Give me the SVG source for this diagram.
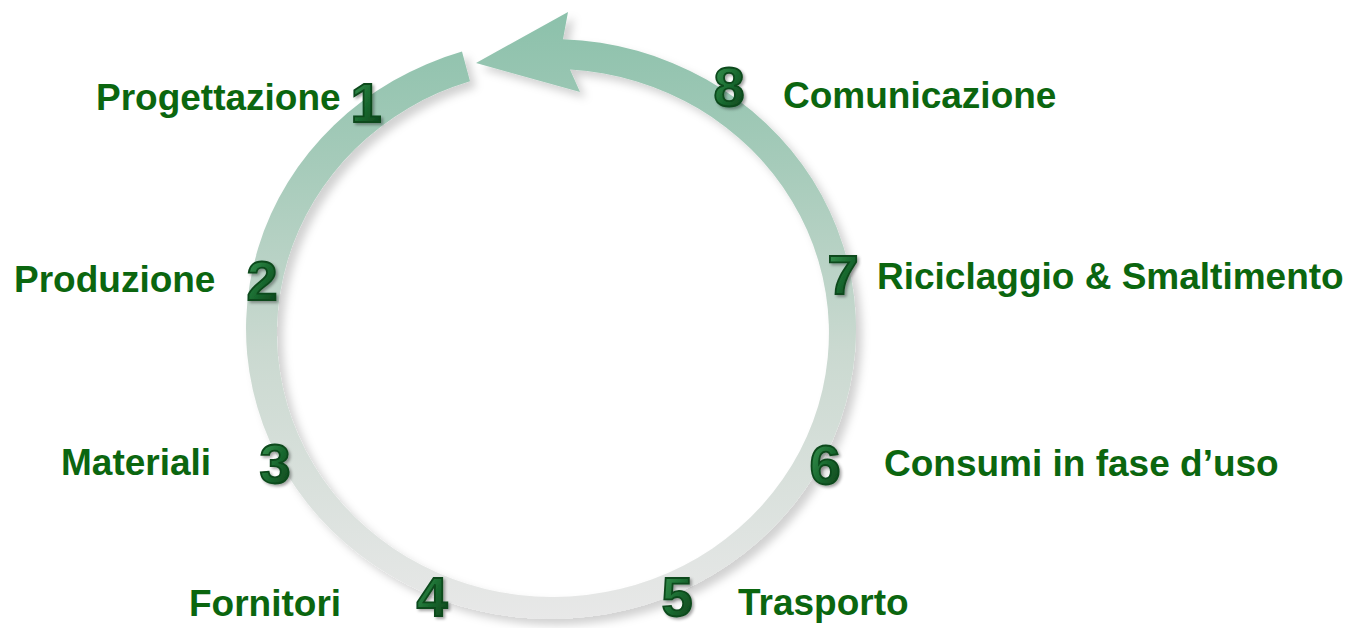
<svg xmlns="http://www.w3.org/2000/svg" width="1349" height="628" viewBox="0 0 1349 628">
  <defs>
    <linearGradient id="ringGrad" gradientUnits="userSpaceOnUse" x1="0" y1="15" x2="0" y2="620">
      <stop offset="0" stop-color="#8cc1ab"/>
      <stop offset="0.25" stop-color="#a6cbba"/>
      <stop offset="0.55" stop-color="#cad9d0"/>
      <stop offset="1" stop-color="#e8e8e8"/>
    </linearGradient>
    <linearGradient id="numGrad" x1="0" y1="0" x2="1" y2="1">
      <stop offset="0" stop-color="#3f9c58"/>
      <stop offset="0.5" stop-color="#1a6b30"/>
      <stop offset="1" stop-color="#0a3d18"/>
    </linearGradient>
    <filter id="ringShadow" x="-10%" y="-10%" width="120%" height="120%">
      <feGaussianBlur in="SourceAlpha" stdDeviation="4"/>
      <feOffset dx="6" dy="6" result="b"/>
      <feFlood flood-color="#000" flood-opacity="0.18"/>
      <feComposite in2="b" operator="in"/>
      <feMerge><feMergeNode/><feMergeNode in="SourceGraphic"/></feMerge>
    </filter>
    <filter id="numShadow" x="-30%" y="-30%" width="160%" height="160%">
      <feGaussianBlur in="SourceAlpha" stdDeviation="1.5"/>
      <feOffset dx="2" dy="2" result="b"/>
      <feFlood flood-color="#000" flood-opacity="0.35"/>
      <feComposite in2="b" operator="in"/>
      <feMerge><feMergeNode/><feMergeNode in="SourceGraphic"/></feMerge>
    </filter>
    <style>
      .num { font-family: "Liberation Sans", Arial, sans-serif; font-weight: bold; font-size: 56px; fill: url(#numGrad); stroke: #0b4a1c; stroke-width: 1.8; text-anchor: middle; filter: url(#numShadow); }
      .lbl { font-family: "Liberation Sans", Arial, sans-serif; font-weight: bold; font-size: 37px; fill: #0b660f; }
    </style>
  </defs>
  <rect width="1349" height="628" fill="#ffffff"/>
  <g id="connectors">
    <path id="cycle-arrow" filter="url(#ringShadow)" fill="url(#ringGrad)"
      d="M 462,51.6 A 305 290 0 1 0 563,39.2 L 568,12 L 476,63 L 580,92 L 570,69.5 A 276 264 0 1 1 470,81.2 Z"/>
  </g>
  <g id="node-1"><text class="num" x="366" y="122">1</text><text class="lbl" x="96" y="110">Progettazione</text></g>
  <g id="node-2"><text class="num" x="262" y="300">2</text><text class="lbl" x="14" y="292">Produzione</text></g>
  <g id="node-3"><text class="num" x="275" y="483">3</text><text class="lbl" x="61" y="475">Materiali</text></g>
  <g id="node-4"><text class="num" x="432" y="616">4</text><text class="lbl" x="189" y="616">Fornitori</text></g>
  <g id="node-5"><text class="num" x="677" y="616">5</text><text class="lbl" x="738" y="615">Trasporto</text></g>
  <g id="node-6"><text class="num" x="825" y="484">6</text><text class="lbl" x="884" y="476">Consumi in fase d’uso</text></g>
  <g id="node-7"><text class="num" x="843" y="294">7</text><text class="lbl" x="877" y="289">Riciclaggio &amp; Smaltimento</text></g>
  <g id="node-8"><text class="num" x="729" y="106">8</text><text class="lbl" x="783" y="108">Comunicazione</text></g>
</svg>
